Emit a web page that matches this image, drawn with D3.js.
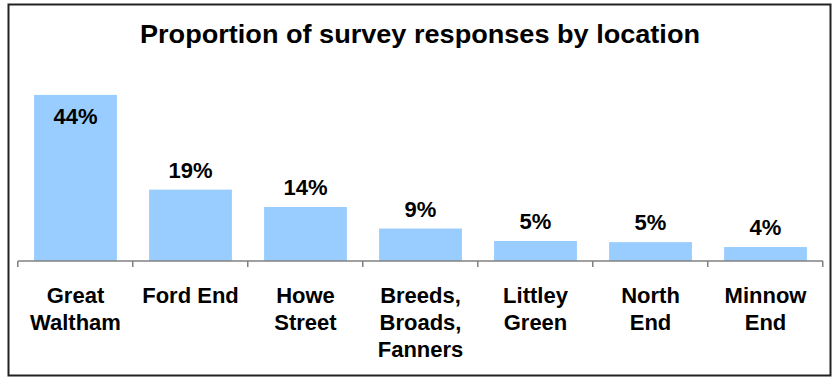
<!DOCTYPE html>
<html>
    <head>
        <meta charset="utf-8">
        <script src="https://cdn.jsdelivr.net/npm/d3@7"></script>
        <style>
            body { margin: 0; background: white; }
            text { font-family: "Liberation Sans", Arial, sans-serif; font-weight: bold; fill: black; }
        </style>
    </head>
    <body>
        <script>
            var title = "Proportion of survey responses by location";
            var locations = [["Great", "Waltham"], ["Ford End"], ["Howe", "Street"], ["Breeds,", "Broads,", "Fanners"],
                             ["Littley", "Green"], ["North", "End"], ["Minnow", "End"]];
            var shares = [44.0, 18.9, 14.3, 8.6, 5.3, 5.0, 3.7];
            var shareLabels = ["44%", "19%", "14%", "9%", "5%", "5%", "4%"];

            var width = 832, height = 378;
            var left = 18, right = 823, base = 261;

            var svg = d3.select("body").append("svg")
                        .attr("width", width)
                        .attr("height", height);

            // outer frame
            svg.append("rect")
               .attr("x", 8.5).attr("y", 4.5)
               .attr("width", 822).attr("height", 371)
               .attr("fill", "white")
               .attr("stroke", "#222")
               .attr("stroke-width", 2);

            svg.append("text")
               .attr("x", 420).attr("y", 43)
               .attr("text-anchor", "middle")
               .attr("font-size", "25px")
               .attr("textLength", 560)
               .attr("lengthAdjust", "spacingAndGlyphs")
               .text(title);

            var idx = d3.range(locations.length);
            var x = d3.scaleBand().domain(idx).range([left, right])
                      .paddingInner(0.28).paddingOuter(0.14);
            var y = d3.scaleLinear().domain([0, 50]).range([base, base - 50 * 3.775]);

            svg.append("g")
               .selectAll("rect").data(idx)
               .enter()
               .append("rect")
               .attr("x", i => x(i))
               .attr("y", i => y(shares[i]))
               .attr("width", x.bandwidth())
               .attr("height", i => base - y(shares[i]))
               .attr("fill", "#99CCFF");

            // category axis with ticks between the groups
            var step = x.step();
            var ax = svg.append("g").attr("stroke", "#808080").attr("stroke-width", 1.5);
            ax.append("line")
              .attr("x1", left).attr("x2", right)
              .attr("y1", base).attr("y2", base);
            ax.selectAll("line.tick").data(d3.range(locations.length + 1))
              .enter()
              .append("line")
              .attr("class", "tick")
              .attr("x1", i => Math.round(left + i * step) - 0.25)
              .attr("x2", i => Math.round(left + i * step) - 0.25)
              .attr("y1", base).attr("y2", base + 6);

            // value labels: above the bar, inside when it would hit the title
            svg.append("g")
               .selectAll("text").data(idx)
               .enter()
               .append("text")
               .attr("x", i => x(i) + x.bandwidth() / 2)
               .attr("y", function (i) {
                   var top = y(shares[i]);
                   return top - 12 < 100 ? top + 29 : top - 12;
               })
               .attr("text-anchor", "middle")
               .attr("font-size", "22px")
               .text(i => shareLabels[i]);

            var cats = svg.append("g")
                          .selectAll("text").data(idx)
                          .enter()
                          .append("text")
                          .attr("text-anchor", "middle")
                          .attr("font-size", "22px");
            cats.selectAll("tspan").data(i => locations[i].map(s => [i, s]))
                .enter()
                .append("tspan")
                .attr("x", d => x(d[0]) + x.bandwidth() / 2)
                .attr("y", (d, j) => 303 + j * 27)
                .text(d => d[1]);
        </script>
    </body>
</html>
